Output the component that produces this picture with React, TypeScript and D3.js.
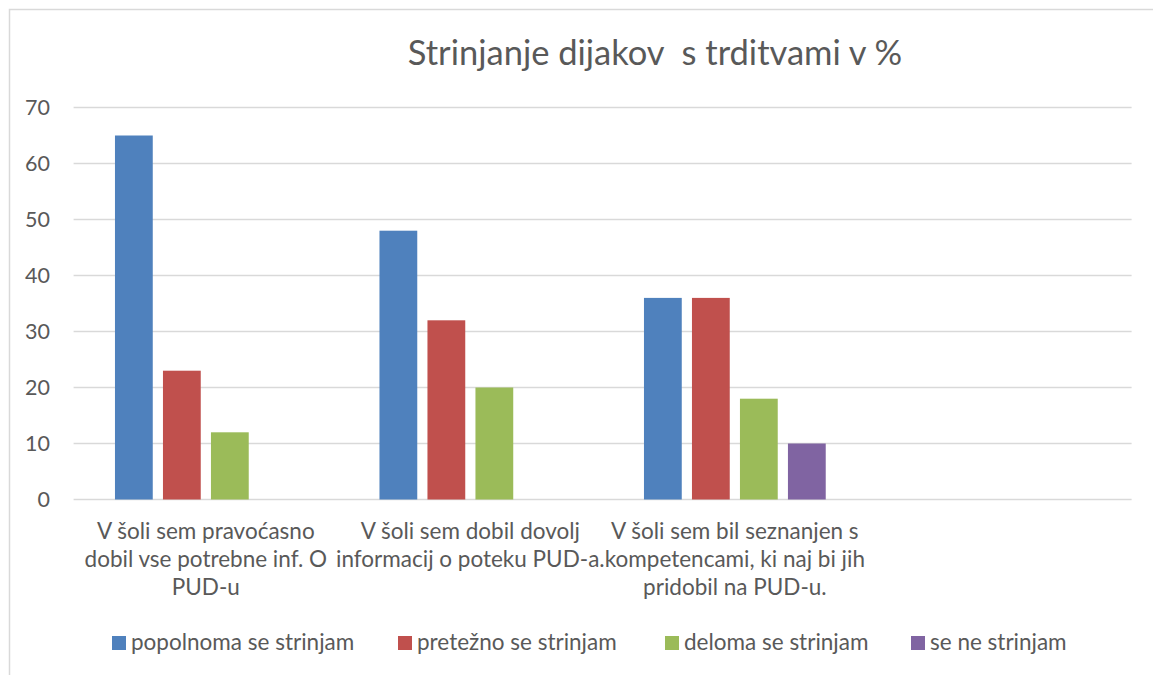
import React from "react";
import * as d3 from "d3";

const title = "Strinjanje dijakov  s trditvami v %";

// category labels, already broken into lines as in the chart
const categories = ["c1", "c2", "c3", "c4"];
const categoryLines = [
  ["V šoli sem pravoćasno", "dobil vse potrebne inf. O", "PUD-u"],
  ["V šoli sem dobil dovolj", "informacij o poteku PUD-a."],
  ["V šoli sem bil seznanjen s", "kompetencami, ki naj bi jih", "pridobil na PUD-u."],
  [],
];

const seriesNames = [
  "popolnoma se strinjam",
  "pretežno se strinjam",
  "deloma se strinjam",
  "se ne strinjam",
];
const popolnoma = [65, 48, 36, null];
const pretezno = [23, 32, 36, null];
const deloma = [12, 20, 18, null];
const seNe = [0, 0, 10, null];
const yTicks = [0, 10, 20, 30, 40, 50, 60, 70];

const colors = ["#4f81bd", "#c0504d", "#9bbb59", "#8064a2"];
const textColor = "#595959";
const gridColor = "#d9d9d9";
const font = "Lato, 'Open Sans', sans-serif";

const W = 1153;
const H = 675;
const plot = { left: 73.6, right: 1131.6, top: 107.5, bottom: 499.5 };
const legendX = [112, 398, 665, 911];

export default function App() {
  const values = [popolnoma, pretezno, deloma, seNe];

  const x0 = d3.scaleBand<string>().domain(categories).range([plot.left, plot.right]);
  const x1 = d3
    .scaleBand<string>()
    .domain(seriesNames)
    .range([0, x0.bandwidth()])
    .paddingInner(0.2126)
    .paddingOuter(0.862);
  const y = d3.scaleLinear().domain([0, 70]).range([plot.bottom, plot.top]);

  return (
    <svg
      width={W}
      height={H}
      style={{ position: "absolute", left: 0, top: 0, background: "#fff" }}
      fontFamily={font}
    >
      <rect x={9.5} y={9.5} width={W + 20} height={H + 20} fill="#fff" stroke={gridColor} strokeWidth={1.5} />

      <text x={655} y={65} textAnchor="middle" fontSize={34.5} fill={textColor} style={{ whiteSpace: "pre" }}>
        {title}
      </text>

      {/* grid + y labels */}
      {yTicks.map((t) => (
        <g key={t}>
          <line x1={plot.left} x2={plot.right} y1={y(t)} y2={y(t)} stroke={gridColor} strokeWidth={1.5} />
          <text x={50} y={y(t)} dy="0.35em" textAnchor="end" fontSize={21.5} fill={textColor}>
            {t}
          </text>
        </g>
      ))}

      {/* bars */}
      {seriesNames.map((s, si) =>
        categories.map((c, ci) => {
          const v = values[si][ci];
          if (v == null) return null;
          return (
            <rect
              key={s + c}
              x={(x0(c) ?? 0) + (x1(s) ?? 0)}
              y={y(v)}
              width={x1.bandwidth()}
              height={y(0) - y(v)}
              fill={colors[si]}
            />
          );
        })
      )}

      {/* category labels */}
      {categories.map((c, ci) => (
        <text
          key={c}
          x={(x0(c) ?? 0) + x0.bandwidth() / 2}
          y={539}
          textAnchor="middle"
          fontSize={22.5}
          fill={textColor}
        >
          {categoryLines[ci].map((l, li) => (
            <tspan key={li} x={(x0(c) ?? 0) + x0.bandwidth() / 2} dy={li === 0 ? 0 : 28}>
              {l}
            </tspan>
          ))}
        </text>
      ))}

      {/* legend */}
      {seriesNames.map((s, si) => (
        <g key={s} transform={`translate(${legendX[si]},636)`}>
          <rect width={14} height={14} fill={colors[si]} />
          <text x={19} y={14} fontSize={22.5} fill={textColor}>
            {s}
          </text>
        </g>
      ))}
    </svg>
  );
}
